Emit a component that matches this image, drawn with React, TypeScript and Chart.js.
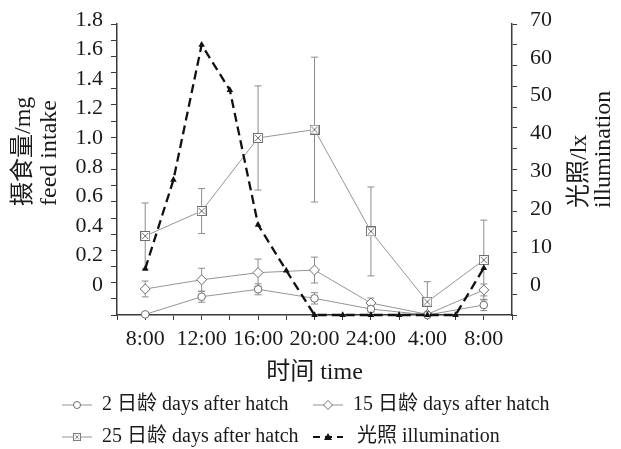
import React, { useEffect, useRef } from 'react';
import { Chart, registerables } from 'chart.js';

Chart.register(...registerables);

// ---- data ----
const TIME_LABELS = ['8:00', '12:00', '16:00', '20:00', '24:00', '4:00', '8:00'];
const LEFT_TICK_LABELS = [0, 0.2, 0.4, 0.6, 0.8, 1.0, 1.2, 1.4, 1.6, 1.8];
const RIGHT_TICK_LABELS = [0, 10, 20, 30, 40, 50, 60, 70];

const DAY2 = [0.004, 0.113, 0.159, 0.103, 0.037, 0, 0.062];
const DAY2_ERR = [0, 0.034, 0.034, 0.035, 0.019, 0, 0.035];
const DAY15 = [0.161, 0.218, 0.262, 0.278, 0.074, 0.004, 0.155];
const DAY15_ERR = [0.049, 0.071, 0.084, 0.08, 0.031, 0, 0.037];
const DAY25 = [0.489, 0.643, 1.095, 1.147, 0.517, 0.082, 0.34];
const DAY25_ERR = [0.204, 0.139, 0.322, 0.448, 0.275, 0.124, 0.247];
// illumination every 2 hours from 8:00 to 8:00 next day
const LIGHT = [11.1, 32.5, 65.0, 54.1, 21.7, 10.7, 0, 0, 0, 0, 0, 0, 11.3];

const SERIES_NAMES = [
  '2 日龄 days after hatch',
  '15 日龄 days after hatch',
  '25 日龄 days after hatch',
  '光照 illumination',
];
const Y_LEFT_TITLE = ['摄食量/mg', 'feed intake'];
const Y_RIGHT_TITLE = ['光照/lx', 'illumination'];
const X_TITLE = '时间 time';

const FONT = "'Liberation Serif', 'Times New Roman', 'Noto Sans CJK SC', serif";
const TEXT = '#1a1a1a';
const AXIS = '#3a3a3a';
const SERIES_LINE = '#959595';
const MARKER = '#6e6e6e';

function makeBoxX(): HTMLCanvasElement {
  const c = document.createElement('canvas');
  c.width = 10;
  c.height = 10;
  const g = c.getContext('2d')!;
  g.fillStyle = '#fff';
  g.fillRect(0.5, 0.5, 9, 9);
  g.strokeStyle = MARKER;
  g.lineWidth = 1;
  g.strokeRect(0.5, 0.5, 9, 9);
  g.beginPath();
  g.moveTo(2, 2);
  g.lineTo(8, 8);
  g.moveTo(8, 2);
  g.lineTo(2, 8);
  g.stroke();
  return c;
}

const errorBarPlugin = {
  id: 'errorBars',
  beforeDatasetsDraw(chart: any) {
    const { ctx, chartArea } = chart;
    ctx.save();
    ctx.beginPath();
    ctx.rect(chartArea.left, chartArea.top, chartArea.right - chartArea.left, chartArea.bottom - chartArea.top);
    ctx.clip();
    ctx.strokeStyle = '#8c8c8c';
    ctx.lineWidth = 1;
    chart.data.datasets.forEach((ds: any, i: number) => {
      if (!ds.errors) return;
      const meta = chart.getDatasetMeta(i);
      const ys = chart.scales[ds.yAxisID];
      meta.data.forEach((pt: any, j: number) => {
        const e = ds.errors[j];
        if (!e) return;
        const v = ds.data[j].y;
        const yt = ys.getPixelForValue(v + e);
        const yb = ys.getPixelForValue(v - e);
        const x = pt.x;
        ctx.beginPath();
        ctx.moveTo(x, yt);
        ctx.lineTo(x, yb);
        ctx.moveTo(x - 3.5, yt);
        ctx.lineTo(x + 3.5, yt);
        ctx.moveTo(x - 3.5, yb);
        ctx.lineTo(x + 3.5, yb);
        ctx.stroke();
      });
    });
    ctx.restore();
  },
};

function drawMarker(ctx: CanvasRenderingContext2D, kind: number, x: number, y: number, boxX: HTMLCanvasElement) {
  ctx.save();
  ctx.lineWidth = 1;
  ctx.strokeStyle = MARKER;
  ctx.fillStyle = '#fff';
  if (kind === 0) {
    ctx.beginPath();
    ctx.arc(x, y, 3.5, 0, Math.PI * 2);
    ctx.fill();
    ctx.stroke();
  } else if (kind === 1) {
    ctx.beginPath();
    ctx.moveTo(x, y - 4.5);
    ctx.lineTo(x + 4.5, y);
    ctx.lineTo(x, y + 4.5);
    ctx.lineTo(x - 4.5, y);
    ctx.closePath();
    ctx.fill();
    ctx.stroke();
  } else if (kind === 2) {
    ctx.drawImage(boxX, x - 4, y - 4, 8, 8);
  } else {
    ctx.fillStyle = '#111';
    ctx.beginPath();
    ctx.moveTo(x, y - 4);
    ctx.lineTo(x + 4, y + 3);
    ctx.lineTo(x - 4, y + 3);
    ctx.closePath();
    ctx.fill();
  }
  ctx.restore();
}

function makeDecorPlugin(boxX: HTMLCanvasElement) {
  return {
    id: 'decor',
    afterDraw(chart: any) {
      const { ctx, chartArea } = chart;
      ctx.save();
      ctx.fillStyle = TEXT;
      ctx.font = `24px ${FONT}`;
      ctx.textAlign = 'left';
      ctx.textBaseline = 'middle';
      // left axis title (rotated, reading upward)
      const yStart = chartArea.top + 182;
      [chartArea.left - 93, chartArea.left - 67].forEach((x, i) => {
        ctx.save();
        ctx.translate(x, yStart);
        ctx.rotate(-Math.PI / 2);
        ctx.fillText(Y_LEFT_TITLE[i], 0, 0);
        ctx.restore();
      });
      // right axis title
      [chartArea.right + 68, chartArea.right + 92].forEach((x, i) => {
        ctx.save();
        ctx.translate(x, yStart + 2);
        ctx.rotate(-Math.PI / 2);
        ctx.fillText(Y_RIGHT_TITLE[i], 0, 0);
        ctx.restore();
      });
      // legend
      ctx.font = `20px ${FONT}`;
      const cols = [chartArea.left - 55, chartArea.left + 196];
      const rows = [chart.height - 44, chart.height - 12];
      SERIES_NAMES.forEach((name, k) => {
        const x0 = cols[k % 2];
        const y = rows[Math.floor(k / 2)];
        ctx.save();
        if (k === 3) {
          ctx.strokeStyle = '#111';
          ctx.lineWidth = 2.2;
          ctx.setLineDash([7, 5]);
          ctx.beginPath();
          ctx.moveTo(x0, y);
          ctx.lineTo(x0 + 30, y);
          ctx.stroke();
        } else {
          ctx.strokeStyle = SERIES_LINE;
          ctx.lineWidth = 1;
          ctx.beginPath();
          ctx.moveTo(x0, y);
          ctx.lineTo(x0 + 30, y);
          ctx.stroke();
        }
        ctx.restore();
        drawMarker(ctx, k, x0 + 15, y, boxX);
        ctx.fillStyle = TEXT;
        ctx.fillText(name, x0 + (k === 3 ? 44 : 40), y);
      });
      ctx.restore();
    },
  };
}

export default function App() {
  const ref = useRef<HTMLCanvasElement | null>(null);

  useEffect(() => {
    if (!ref.current) return;
    const boxX = makeBoxX();
    const pts = (arr: number[]) => arr.map((v, i) => ({ x: i, y: v }));
    const lightPts = LIGHT.map((v, i) => ({ x: i / 2, y: v }));

    const grayLine = {
      borderColor: SERIES_LINE,
      borderWidth: 1,
      pointBorderColor: MARKER,
      pointBackgroundColor: '#fff',
      pointBorderWidth: 1,
      yAxisID: 'yL',
      clip: false as any,
      order: 2,
    };

    const chart = new Chart(ref.current, {
      type: 'line',
      data: {
        datasets: [
          {
            ...grayLine,
            label: SERIES_NAMES[0],
            data: pts(DAY2),
            errors: DAY2_ERR,
            pointStyle: 'circle',
            pointRadius: 3.8,
          } as any,
          {
            ...grayLine,
            label: SERIES_NAMES[1],
            data: pts(DAY15),
            errors: DAY15_ERR,
            pointStyle: 'rectRot',
            pointRadius: 5,
          } as any,
          {
            ...grayLine,
            label: SERIES_NAMES[2],
            data: pts(DAY25),
            errors: DAY25_ERR,
            pointStyle: boxX,
            pointRadius: 5,
          } as any,
          {
            label: SERIES_NAMES[3],
            data: lightPts,
            yAxisID: 'yR',
            borderColor: '#111',
            borderWidth: 2.3,
            borderDash: [9, 5],
            pointStyle: 'triangle',
            pointRadius: 3.8,
            pointBackgroundColor: '#111',
            pointBorderColor: '#111',
            pointBorderWidth: 0,
            clip: false as any,
            order: 1,
          } as any,
        ],
      },
      options: {
        responsive: false,
        animation: false,
        events: [],
        layout: { padding: { left: 61, right: 56, top: 24, bottom: 62 } },
        plugins: { legend: { display: false }, tooltip: { enabled: false } },
        scales: {
          x: {
            type: 'linear',
            min: -0.5,
            max: 6.5,
            afterBuildTicks: (axis: any) => {
              const t = [];
              for (let i = 0; i <= TIME_LABELS.length * 2; i++) t.push({ value: -0.5 + i * 0.5 });
              axis.ticks = t;
            },
            afterFit: (s: any) => {
              s.height = 72;
            },
            ticks: {
              autoSkip: false,
              maxRotation: 0,
              padding: 6,
              color: TEXT,
              font: { family: FONT, size: 22 },
              callback: (v: any) => (Number.isInteger(v) ? TIME_LABELS[v] : ''),
            },
            grid: { drawOnChartArea: false, drawTicks: true, tickLength: 5, color: AXIS, tickWidth: 1 },
            border: { display: true, color: AXIS, width: 1.5 },
            title: {
              display: true,
              text: X_TITLE,
              color: TEXT,
              font: { family: FONT, size: 24 },
              padding: { top: 0, bottom: 0 },
            },
          },
          yLL: {
            axis: 'y',
            type: 'linear',
            position: 'left',
            weight: 1,
            min: -0.204,
            max: 1.773,
            afterBuildTicks: (axis: any) => {
              axis.ticks = LEFT_TICK_LABELS.map((v) => ({ value: v }));
            },
            afterFit: (s: any) => {
              s.width = 50;
              s.paddingTop = 0;
              s.paddingBottom = 0;
            },
            ticks: {
              padding: 8,
              color: TEXT,
              font: { family: FONT, size: 22 },
              callback: (v: any) => (v === 0 ? '0' : Number(v).toFixed(1)),
            },
            grid: { display: false, drawTicks: false, tickLength: 0 },
            border: { display: false },
          },
          yL: {
            axis: 'y',
            type: 'linear',
            position: 'left',
            weight: 0,
            min: 0,
            max: 1.8,
            ticks: { display: false, stepSize: 0.1 },
            afterFit: (s: any) => {
              s.width = 6;
            },
            grid: { drawOnChartArea: false, drawTicks: true, tickLength: 6, color: AXIS, tickWidth: 1 },
            border: { display: true, color: AXIS, width: 1.5 },
          },
          yR: {
            axis: 'y',
            type: 'linear',
            position: 'right',
            weight: 0,
            min: 0,
            max: 70,
            ticks: { display: false, stepSize: 5 },
            afterFit: (s: any) => {
              s.width = 5;
            },
            grid: { drawOnChartArea: false, drawTicks: true, tickLength: 5, color: AXIS, tickWidth: 1 },
            border: { display: true, color: AXIS, width: 1.5 },
          },
          yRL: {
            axis: 'y',
            type: 'linear',
            position: 'right',
            weight: 1,
            min: -7.92,
            max: 68.94,
            afterBuildTicks: (axis: any) => {
              axis.ticks = RIGHT_TICK_LABELS.map((v) => ({ value: v }));
            },
            afterFit: (s: any) => {
              s.width = 48;
              s.paddingTop = 0;
              s.paddingBottom = 0;
            },
            ticks: {
              padding: 13,
              color: TEXT,
              font: { family: FONT, size: 22 },
            },
            grid: { display: false, drawTicks: false, tickLength: 0 },
            border: { display: false },
          },
        },
      } as any,
      plugins: [errorBarPlugin, makeDecorPlugin(boxX)],
    });
    return () => chart.destroy();
  }, []);

  return (
    <div style={{ position: 'fixed', left: 0, top: 0, width: 621, height: 449, background: '#fff' }}>
      <canvas ref={ref} width={621} height={449} style={{ display: 'block' }} />
    </div>
  );
}
